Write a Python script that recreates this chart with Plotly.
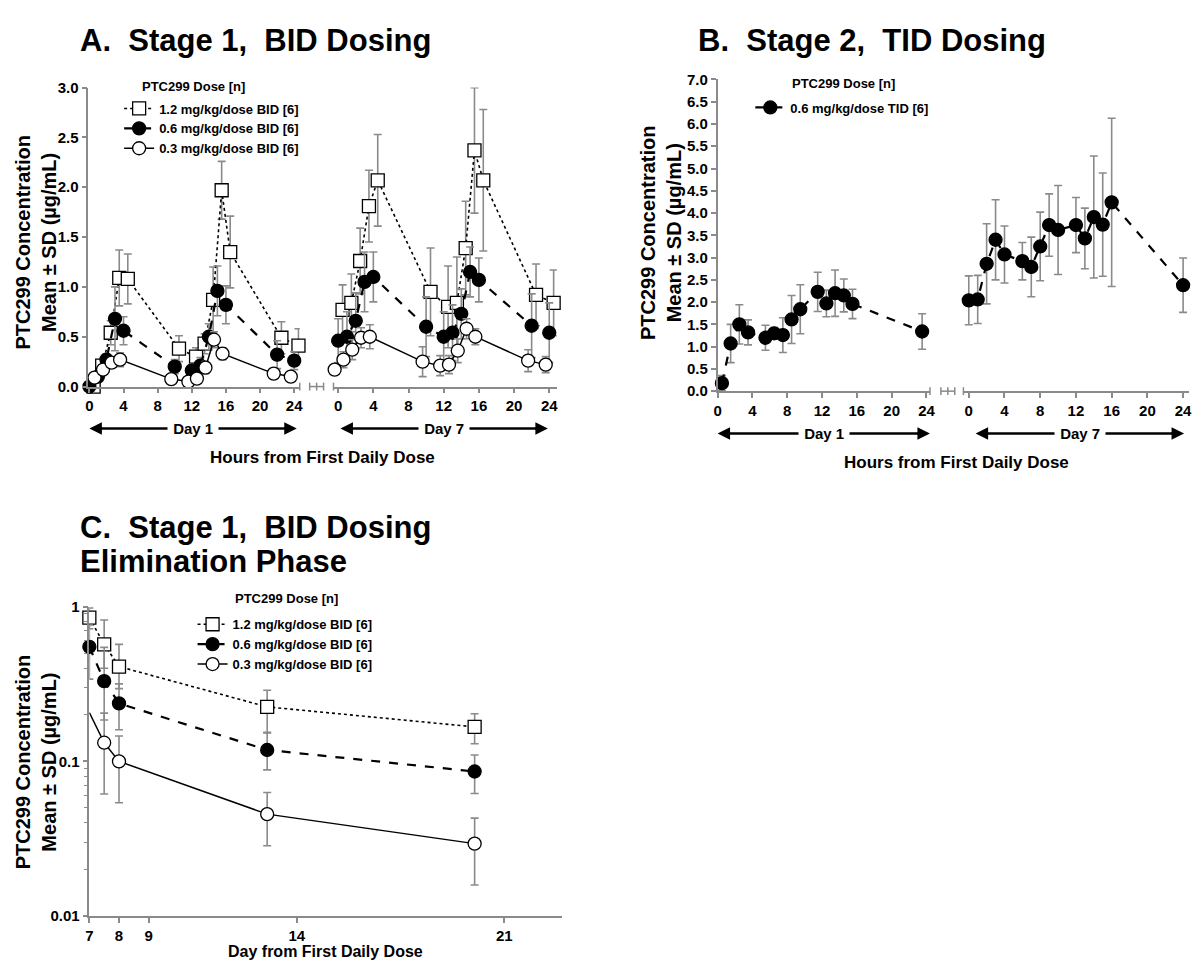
import plotly.graph_objects as go

W, H = 1194, 969
def px(x): return x / W
def py(y): return 1 - y / H

# ---------------- DATA ----------------
# Panel A (Stage 1, BID) - hours from first daily dose (series drawn slightly offset as in source)
a_t_12 = [0.5, 1.5, 2.5, 3.5, 4.5, 10.5, 12.5, 13.5, 14.5, 15.5, 16.5, 22.5, 24.5]
a_t_06 = [0, 1, 2, 3, 4, 10, 12, 13, 14, 15, 16, 22, 24]
a_t_03_d1 = [0.6, 1.6, 2.6, 3.6, 9.6, 11.6, 12.6, 13.6, 14.6, 15.6, 21.6, 23.6]
a_t_03_d7 = [-0.4, 0.6, 1.6, 2.6, 3.6, 9.6, 11.6, 12.6, 13.6, 14.6, 15.6, 21.6, 23.6]

a_d1_12 = [0.0, 0.21, 0.54, 1.09, 1.08, 0.38, 0.30, 0.43, 0.87, 1.97, 1.35, 0.49, 0.41]
a_d1_12_sd = [0.0, 0.06, 0.12, 0.28, 0.25, 0.13, 0.09, 0.10, 0.33, 0.29, 0.36, 0.16, 0.17]
a_d1_06 = [0.0, 0.10, 0.27, 0.68, 0.56, 0.20, 0.16, 0.21, 0.50, 0.96, 0.82, 0.32, 0.26]
a_d1_06_sd = [0.0, 0.03, 0.06, 0.32, 0.14, 0.07, 0.06, 0.08, 0.13, 0.25, 0.19, 0.14, 0.09]
a_d1_03 = [0.09, 0.17, 0.24, 0.27, 0.075, 0.05, 0.08, 0.19, 0.47, 0.33, 0.13, 0.10]
a_d1_03_sd = [0.03, 0.04, 0.05, 0.07, 0.03, 0.03, 0.04, 0.06, 0.08, 0.06, 0.05, 0.04]

a_d7_12 = [0.77, 0.84, 1.26, 1.81, 2.07, 0.95, 0.80, 0.84, 1.39, 2.37, 2.07, 0.92, 0.84]
a_d7_12_sd = [0.25, 0.29, 0.33, 0.36, 0.46, 0.44, 0.41, 0.46, 0.47, 0.63, 0.71, 0.31, 0.33]
a_d7_06 = [0.46, 0.50, 0.66, 1.05, 1.10, 0.60, 0.50, 0.54, 0.73, 1.15, 1.07, 0.61, 0.54]
a_d7_06_sd = [0.22, 0.25, 0.28, 0.30, 0.25, 0.30, 0.25, 0.28, 0.25, 0.25, 0.22, 0.32, 0.30]
a_d7_03 = [0.17, 0.27, 0.37, 0.49, 0.50, 0.25, 0.21, 0.22, 0.36, 0.58, 0.50, 0.26, 0.22]
a_d7_03_sd = [0.02, 0.08, 0.10, 0.10, 0.12, 0.15, 0.10, 0.09, 0.12, 0.10, 0.08, 0.11, 0.08]

# Panel B (Stage 2, TID)
b_t_d1 = [0.5, 1.5, 2.5, 3.5, 5.5, 6.5, 7.5, 8.5, 9.5, 11.5, 12.5, 13.5, 14.5, 15.5, 23.5]
b_d1 = [0.18, 1.07, 1.50, 1.32, 1.20, 1.30, 1.26, 1.61, 1.84, 2.23, 1.97, 2.20, 2.15, 1.96, 1.34]
b_d1_sd = [0.17, 0.43, 0.44, 0.28, 0.28, 0.13, 0.39, 0.54, 0.55, 0.44, 0.30, 0.52, 0.37, 0.33, 0.40]
b_t_d7 = [0, 1, 2, 3, 4, 6, 7, 8, 9, 10, 12, 13, 14, 15, 16, 24]
b_d7 = [2.04, 2.06, 2.86, 3.40, 3.07, 2.92, 2.79, 3.25, 3.73, 3.62, 3.73, 3.43, 3.91, 3.74, 4.24, 2.38]
b_d7_sd = [0.55, 0.54, 0.90, 0.90, 0.64, 0.42, 0.67, 0.77, 0.70, 1.00, 0.62, 0.68, 1.37, 1.16, 1.89, 0.61]

# Panel C (elimination phase, log scale) - day from first daily dose
c_day = [7, 7.5, 8, 13, 20]
c_12 = [0.85, 0.57, 0.41, 0.225, 0.167]
c_12_hi = [0.98, 0.82, 0.57, 0.288, 0.203]
c_12_lo = [0.72, 0.40, 0.295, 0.154, 0.130]
c_06 = [0.55, 0.33, 0.237, 0.1185, 0.086]
c_06_hi = [0.76, 0.545, 0.317, 0.1527, 0.110]
c_06_lo = [0.34, 0.185, 0.16, 0.0881, 0.062]
c_03 = [0.207, 0.132, 0.10, 0.0456, 0.0294]
c_03_hi = [0.207, 0.205, 0.146, 0.0629, 0.043]
c_03_lo = [0.207, 0.0615, 0.054, 0.0285, 0.0159]

names = ["1.2 mg/kg/dose BID [6]", "0.6 mg/kg/dose BID [6]", "0.3 mg/kg/dose BID [6]"]
name_tid = "0.6 mg/kg/dose TID [6]"
hour_ticks = [0, 4, 8, 12, 16, 20, 24]
day_ticks = [7, 8, 9, 14, 21]

# ---------------- STYLE ----------------
FONT = "Liberation Sans, Arial, Helvetica, sans-serif"
ERRC = "#8a8a8a"
AXC = "#8a8a8a"
MS = 13
STY = {
    "12": dict(symbol="square", fill="white", dash="dot", width=1.6),
    "06": dict(symbol="circle", fill="black", dash="dash", width=2.2),
    "03": dict(symbol="circle", fill="white", dash="solid", width=1.5),
}

fig = go.Figure()

def add(x, y, xa, ya, key, name, showlegend, legend, group,
        sd=None, hi=None, lo=None, mode="lines+markers"):
    s = STY[key]
    if sd is not None:
        err = dict(type="data", array=sd, visible=True, color=ERRC, thickness=1.6, width=4)
    elif hi is not None:
        err = dict(type="data", array=[h - v for h, v in zip(hi, y)],
                   arrayminus=[v - l for v, l in zip(y, lo)],
                   symmetric=False, visible=True, color=ERRC, thickness=1.6, width=4)
    else:
        err = dict(visible=False)
    fig.add_trace(go.Scatter(
        x=x, y=y, xaxis=xa, yaxis=ya, mode=mode, name=name,
        line=dict(color="black", dash=s["dash"], width=s["width"]),
        marker=dict(symbol=s["symbol"], size=MS,
                    color=s["fill"], line=dict(color="black", width=1.3)),
        error_y=err, showlegend=showlegend, legend=legend, legendgroup=group,
        cliponaxis=False, hoverinfo="skip"))

# Panel A
add(a_t_12, a_d1_12, "x", "y", "12", names[0], True, "legend", "a12", sd=a_d1_12_sd)
add(a_t_06, a_d1_06, "x", "y", "06", names[1], True, "legend", "a06", sd=a_d1_06_sd)
add(a_t_03_d1, a_d1_03, "x", "y", "03", names[2], True, "legend", "a03", sd=a_d1_03_sd)
add(a_t_12, a_d7_12, "x2", "y", "12", names[0], False, "legend", "a12", sd=a_d7_12_sd)
add(a_t_06, a_d7_06, "x2", "y", "06", names[1], False, "legend", "a06", sd=a_d7_06_sd)
add(a_t_03_d7, a_d7_03, "x2", "y", "03", names[2], False, "legend", "a03", sd=a_d7_03_sd)

# Panel B
add(b_t_d1, b_d1, "x3", "y3", "06", name_tid, True, "legend2", "b06", sd=b_d1_sd)
add(b_t_d7, b_d7, "x4", "y3", "06", name_tid, False, "legend2", "b06", sd=b_d7_sd)

# Panel C (0.3 series: first sample shown as line only, no marker / error bar)
add(c_day, c_12, "x5", "y5", "12", names[0], True, "legend3", "c12", hi=c_12_hi, lo=c_12_lo)
add(c_day, c_06, "x5", "y5", "06", names[1], True, "legend3", "c06", hi=c_06_hi, lo=c_06_lo)
add(c_day[:2], c_03[:2], "x5", "y5", "03", names[2], False, "legend3", "c03", mode="lines")
add(c_day[1:], c_03[1:], "x5", "y5", "03", names[2], True, "legend3", "c03",
    hi=c_03_hi[1:], lo=c_03_lo[1:])

tickfont = dict(family=FONT, size=15, color="black", weight="bold")
def axis(**kw):
    d = dict(showline=True, linecolor=AXC, linewidth=1.5, ticks="outside", ticklen=5,
             tickcolor=AXC, tickwidth=1.5, tickfont=tickfont, showgrid=False,
             zeroline=False, mirror=False, fixedrange=True)
    d.update(kw)
    return d

fig.update_layout(
    width=W, height=H, margin=dict(l=0, r=0, t=0, b=0),
    paper_bgcolor="white", plot_bgcolor="white",
    font=dict(family=FONT, color="black"),
    xaxis=axis(domain=[px(85), px(298)], range=[-0.12, 24.65], anchor="y",
               tickmode="array", tickvals=hour_ticks),
    xaxis2=axis(domain=[px(332), px(557)], range=[-0.53, 24.86], anchor="y",
                tickmode="array", tickvals=hour_ticks),
    yaxis=axis(domain=[py(384.3), py(80)], range=[0, 3], anchor="x",
               dtick=0.5, tick0=0, tickformat=".1f"),
    xaxis3=axis(domain=[px(719), px(933)], range=[0, 24.4], anchor="y3",
                tickmode="array", tickvals=hour_ticks),
    xaxis4=axis(domain=[px(966.7), 1.0], range=[-0.6, 24.66], anchor="y3",
                tickmode="array", tickvals=hour_ticks),
    yaxis3=axis(domain=[py(389), py(71.7)], range=[0, 7], anchor="x3",
                dtick=0.5, tick0=0, tickformat=".1f"),
    xaxis5=axis(domain=[px(86), px(562)], range=[7, 22.94], anchor="y5",
                tickmode="array", tickvals=day_ticks),
    yaxis5=axis(domain=[py(923.3), py(608.3)], type="log", range=[-2, 0], anchor="x5",
                tickmode="array", tickvals=[0.01, 0.1, 1], ticktext=["0.01", "0.1", "1"],
                minor=dict(ticks="outside", ticklen=4, tickcolor=AXC, tickwidth=1.2,
                           tickvals=[0.02, 0.03, 0.04, 0.05, 0.06, 0.07, 0.08, 0.09,
                                     0.2, 0.3, 0.4, 0.5, 0.6, 0.7, 0.8, 0.9])),
    showlegend=True,
)

leg_common = dict(xanchor="left", yanchor="top", bgcolor="rgba(0,0,0,0)",
                  font=dict(family=FONT, size=13, color="black", weight="bold"),
                  itemwidth=30, tracegroupgap=0, itemclick=False, itemdoubleclick=False)
fig.update_layout(
    legend=dict(x=px(116), y=py(86), **leg_common),
    legend2=dict(x=px(752), y=py(85), **leg_common),
    legend3=dict(x=px(190), y=py(611), **leg_common),
)

ann = []
def text(x, y, t, size, xanchor="center", angle=0, bg=None):
    d = dict(x=px(x), y=py(y), xref="paper", yref="paper", text=t, showarrow=False,
             xanchor=xanchor, yanchor="middle", textangle=angle,
             font=dict(family=FONT, size=size, color="black", weight="bold"))
    if bg:
        d["bgcolor"] = bg
    ann.append(d)

# Panel titles
text(75, 32, "A.  Stage 1,  BID Dosing", 31, xanchor="left")
text(697, 32, "B.  Stage 2,  TID Dosing", 31, xanchor="left")
text(75, 528, "C.  Stage 1,  BID Dosing", 31, xanchor="left")
text(75, 562, "Elimination Phase", 31, xanchor="left")

# Legend titles
text(137, 79, "PTC299 Dose [n]", 13, xanchor="left")
text(792, 76, "PTC299 Dose [n]", 13, xanchor="left")
text(231, 600, "PTC299 Dose [n]", 13, xanchor="left")

# Y axis titles
ytitle = "PTC299 Concentration<br>Mean ± SD (µg/mL)"
text(32, 238, ytitle, 20, angle=-90)
text(662, 228, ytitle, 20, angle=-90)
text(32, 767, ytitle, 20, angle=-90)

# X axis titles
text(321, 457, "Hours from First Daily Dose", 17)
text(960, 462, "Hours from First Daily Dose", 17)
text(324, 959, "Day from First Daily Dose", 16)

shapes = []
def arrow(x0, x1, y, label):
    shapes.append(dict(type="line", xref="paper", yref="paper", x0=px(x0 + 8), x1=px(x1 - 8),
                       y0=py(y), y1=py(y), line=dict(color="black", width=2.5)))
    for xe, off in ((x0, 14), (x1, -14)):
        ann.append(dict(x=px(xe), y=py(y), xref="paper", yref="paper", text="",
                        showarrow=True, arrowhead=2, arrowsize=1, arrowwidth=2.5,
                        arrowcolor="black", ax=off, ay=0, axref="pixel", ayref="pixel"))
    text((x0 + x1) / 2, y, "&nbsp;" + label + "&nbsp;", 15, bg="white")

arrow(86, 295, 427, "Day 1")
arrow(339, 548, 427, "Day 7")
arrow(719, 933, 432, "Day 1")
arrow(979, 1189, 432, "Day 7")

def brk(x0, x1, y):
    shapes.append(dict(type="line", xref="paper", yref="paper", x0=px(x0), x1=px(x1),
                       y0=py(y), y1=py(y), line=dict(color=AXC, width=1.5)))
    for xx in (x0, (x0 + x1) / 2, x1):
        shapes.append(dict(type="line", xref="paper", yref="paper", x0=px(xx), x1=px(xx),
                           y0=py(y - 4), y1=py(y + 4), line=dict(color=AXC, width=1.5)))

def endtick(x, y):
    shapes.append(dict(type="line", xref="paper", yref="paper", x0=px(x), x1=px(x),
                       y0=py(y - 4), y1=py(y + 4), line=dict(color=AXC, width=1.5)))

brk(308, 322, 384.3)
endtick(298, 384.3)
endtick(332, 384.3)
brk(944, 958, 389)
endtick(933, 389)
endtick(966.7, 389)

fig.update_layout(annotations=ann, shapes=shapes)
fig.write_html("out.html", config={"displayModeBar": False},
               post_script="document.body.style.margin='0';document.body.style.overflow='hidden';")
